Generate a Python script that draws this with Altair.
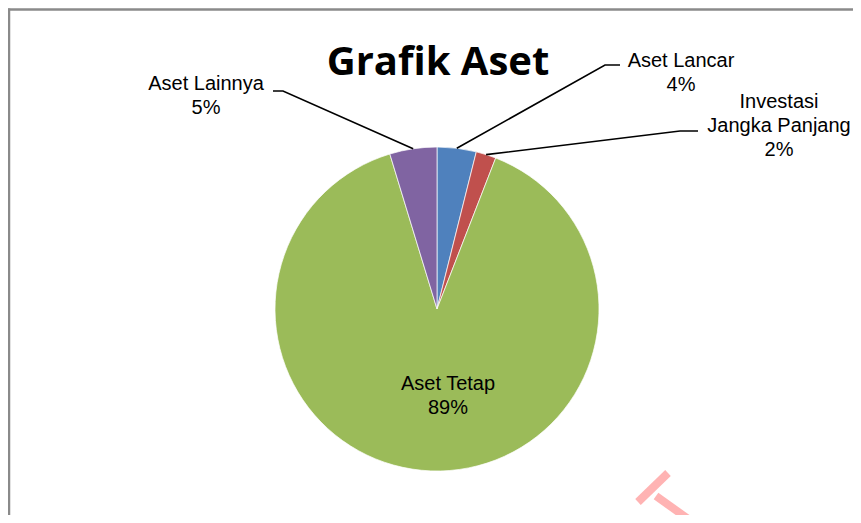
import math
import altair as alt
import pandas as pd

# ---------------- data ----------------
categories = ["Aset Lancar", "Investasi Jangka Panjang", "Aset Tetap", "Aset Lainnya"]
values = [3.9, 2.0, 89.4, 4.7]
colors = ["#4F81BD", "#C0504D", "#9BBB59", "#8064A2"]
label_lines = [["Aset Lancar"], ["Investasi", "Jangka Panjang"], ["Aset Tetap"], ["Aset Lainnya"]]
title_text = "Grafik Aset"

# ---------------- layout ----------------
W, H = 845, 507
CX, CY, R = 429, 301, 162
LINE_H = 24
# label anchor: centre x, first baseline y ; leader elbow and end (None = inside label)
label_anchor = [(673, 59), (771, 100), (440, 382), (198, 82)]
leader_elbow = [(597, 57), (672, 123), None, (275, 83)]
leader_end = [(612, 57), (690, 123), None, (265, 83)]

total = sum(values)
pie_df = pd.DataFrame({"category": categories, "value": values, "idx": list(range(len(values)))})

# labels
rows = []
for i, (cat, v) in enumerate(zip(categories, values)):
    pct = f"{round(v / total * 100)}%"
    lines = label_lines[i] + [pct]
    ax, ay = label_anchor[i]
    for j, t in enumerate(lines):
        rows.append({"x": ax, "y": ay + j * LINE_H, "text": t})
label_df = pd.DataFrame(rows)

# leader lines (start computed from slice mid-angle)
lrows = []
cum = 0.0
for i, v in enumerate(values):
    mid = (cum + v / 2) / total * 2 * math.pi
    cum += v
    if leader_elbow[i] is None:
        continue
    sx = CX + R * math.sin(mid)
    sy = CY - R * math.cos(mid)
    pts = [(sx, sy), leader_elbow[i], leader_end[i]]
    for k, (px, py) in enumerate(pts):
        lrows.append({"cat": categories[i], "k": k, "x": px, "y": py})
leader_df = pd.DataFrame(lrows)

xs = alt.Scale(domain=[0, W], range=[0, W], nice=False, zero=False)
ys = alt.Scale(domain=[0, H], range=[0, H], nice=False, zero=False)

pie = alt.Chart(pie_df).mark_arc(outerRadius=R, stroke="white", strokeWidth=0.7).encode(
    theta=alt.Theta("value:Q", stack=True),
    color=alt.Color("category:N", scale=alt.Scale(domain=categories, range=colors), legend=None),
    order=alt.Order("idx:Q"),
    x=alt.value(CX),
    y=alt.value(CY),
)

leaders = alt.Chart(leader_df).mark_line(color="black", strokeWidth=1.6).encode(
    x=alt.X("x:Q", scale=xs, axis=None),
    y=alt.Y("y:Q", scale=ys, axis=None),
    detail="cat:N",
    order="k:Q",
)

labels = alt.Chart(label_df).mark_text(
    font="Liberation Sans", fontSize=20, color="black", align="center", baseline="alphabetic"
).encode(
    x=alt.X("x:Q", scale=xs, axis=None),
    y=alt.Y("y:Q", scale=ys, axis=None),
    text="text:N",
)

title = alt.Chart(pd.DataFrame({"t": [title_text]})).mark_text(
    font="Open Sans", fontWeight="bold", fontSize=40, color="black", align="center", baseline="alphabetic"
).encode(text="t:N", x=alt.value(430), y=alt.value(67))

border_left = alt.Chart(pd.DataFrame({"a": [0]})).mark_rule(color="#8a8a8a", strokeWidth=2.5).encode(
    x=alt.value(1), y=alt.value(0.5), y2=alt.value(H)
)
border_top = alt.Chart(pd.DataFrame({"a": [0]})).mark_rule(color="#8a8a8a", strokeWidth=2.5).encode(
    x=alt.value(0), x2=alt.value(W), y=alt.value(1.5)
)

wm1 = alt.Chart(pd.DataFrame({"a": [0]})).mark_rule(color="#ffb3b3", strokeWidth=8).encode(
    x=alt.value(630), x2=alt.value(660), y=alt.value(494), y2=alt.value(465)
)
wm2 = alt.Chart(pd.DataFrame({"a": [0]})).mark_rule(color="#ffb3b3", strokeWidth=8).encode(
    x=alt.value(648), x2=alt.value(690), y=alt.value(488), y2=alt.value(518)
)

chart = alt.layer(border_left, border_top, pie, leaders, labels, title, wm1, wm2).properties(
    width=W, height=H, padding=0, autosize="none", background="white"
).configure_view(stroke=None)

chart.save("out.html", embed_options={"renderer": "svg", "actions": False})
